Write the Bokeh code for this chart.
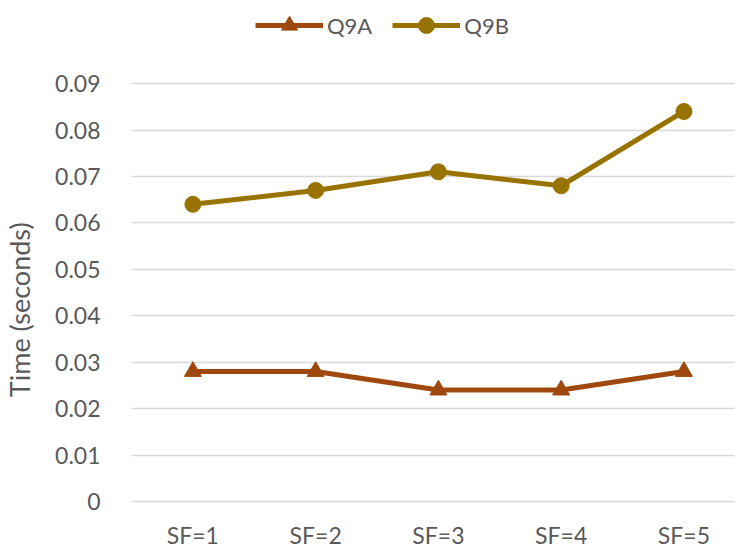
from bokeh.plotting import figure
from bokeh.models import Range1d, FixedTicker, Legend, LegendItem
from bokeh.embed import file_html
from bokeh.resources import INLINE

categories = ["SF=1", "SF=2", "SF=3", "SF=4", "SF=5"]
q9a = [0.028, 0.028, 0.024, 0.024, 0.028]
q9b = [0.064, 0.067, 0.071, 0.068, 0.084]
y_ticks = [0, 0.01, 0.02, 0.03, 0.04, 0.05, 0.06, 0.07, 0.08, 0.09]
y_labels = ["0", "0.01", "0.02", "0.03", "0.04", "0.05", "0.06", "0.07", "0.08", "0.09"]
y_title = "Time (seconds)"

xs = [i + 0.5 for i in range(len(categories))]

FONT = "Lato"
GREY = "#595959"

# frame spans the full height so the legend can sit inside it, above the 0.09 gridline
p = figure(width=735, height=551, output_backend="svg", toolbar_location=None,
           x_range=Range1d(0, 4.92), y_range=Range1d(0, 0.1079),
           min_border_left=126, min_border_right=0, min_border_top=0, min_border_bottom=47)
p.outline_line_color = None

ra = p.line(xs, q9a, line_color="#9E480E", line_width=5)
ma = p.scatter(xs, q9a, marker="triangle", size=17, color="#9E480E")
rb = p.line(xs, q9b, line_color="#997300", line_width=5)
mb = p.scatter(xs, q9b, marker="circle", size=16, color="#997300")

p.xaxis.ticker = FixedTicker(ticks=xs)
p.xaxis.major_label_overrides = {x: c for x, c in zip(xs, categories)}
p.yaxis.ticker = FixedTicker(ticks=y_ticks)
p.yaxis.major_label_overrides = {t: l for t, l in zip(y_ticks, y_labels)}

for ax in (p.xaxis[0], p.yaxis[0]):
    ax.major_tick_line_color = None
    ax.minor_tick_line_color = None
    ax.major_label_text_font = FONT
    ax.major_label_text_color = GREY
    ax.major_label_text_font_size = "23px"
    ax.axis_label_text_font = FONT
    ax.axis_label_text_color = GREY
    ax.axis_label_text_font_style = "normal"
p.xaxis.axis_line_color = "#D9D9D9"
p.xaxis.axis_line_width = 1.5
p.xaxis.major_label_standoff = 13
p.yaxis.axis_line_color = None
p.yaxis.major_label_standoff = 25
# non-breaking spaces push the visible title down so it centres on the 0..0.09 span
p.yaxis.axis_label = y_title + "\u00a0" * 17
p.yaxis.axis_label_text_font_size = "27px"
p.yaxis.axis_label_standoff = 16

p.xgrid.grid_line_color = None
p.ygrid.grid_line_color = "#D9D9D9"
p.ygrid.grid_line_width = 1.5

legend = Legend(items=[LegendItem(label="Q9A", renderers=[ra, ma]),
                       LegendItem(label="Q9B", renderers=[rb, mb])],
                orientation="horizontal", location=(124, 456),
                glyph_width=68, glyph_height=40, label_standoff=4, spacing=20,
                label_text_font=FONT, label_text_font_size="22px", label_text_color=GREY,
                border_line_color=None, background_fill_alpha=0, padding=0, margin=0)
p.add_layout(legend, "center")

open("out.html", "w").write(file_html(p, INLINE))
